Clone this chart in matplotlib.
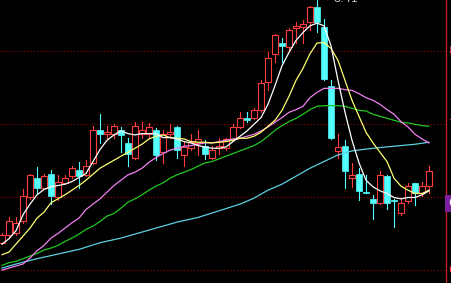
import numpy as np
import matplotlib
matplotlib.use("Agg")
import matplotlib.pyplot as plt
from matplotlib.patches import Rectangle

# K线数据 (开, 高, 低, 收)
opens = [6.59, 6.65, 6.66, 6.75, 6.93, 7.08, 7.00, 7.11, 6.93, 7.04,
         7.09, 7.14, 7.10, 7.19, 7.44, 7.41, 7.41, 7.44, 7.34, 7.23,
         7.41, 7.41, 7.44, 7.27, 7.41, 7.46, 7.25, 7.30, 7.34, 7.32,
         7.23, 7.30, 7.30, 7.37, 7.46, 7.53, 7.53, 7.59, 7.80, 8.01,
         8.09, 8.06, 8.20, 8.21, 8.25, 8.36, 8.21, 7.77, 7.28, 7.32,
         7.08, 7.11, 6.97, 6.92, 6.89, 7.09, 6.91, 6.81, 6.90, 7.04,
         6.96, 7.02]
highs = [6.66, 6.78, 6.78, 6.99, 7.11, 7.16, 7.11, 7.14, 7.10, 7.10,
         7.17, 7.20, 7.21, 7.47, 7.56, 7.47, 7.48, 7.46, 7.38, 7.50,
         7.50, 7.49, 7.45, 7.44, 7.48, 7.47, 7.35, 7.41, 7.44, 7.36,
         7.32, 7.38, 7.38, 7.48, 7.57, 7.57, 7.60, 7.81, 8.02, 8.16,
         8.13, 8.20, 8.25, 8.26, 8.37, 8.41, 8.27, 7.81, 7.41, 7.36,
         7.19, 7.15, 7.10, 6.95, 7.13, 7.10, 6.92, 6.92, 7.04, 7.04,
         7.05, 7.17]
lows = [6.58, 6.64, 6.65, 6.74, 6.92, 6.96, 6.99, 6.88, 6.91, 7.03,
        7.08, 7.00, 7.09, 7.18, 7.34, 7.37, 7.38, 7.27, 7.17, 7.22,
        7.38, 7.38, 7.21, 7.19, 7.38, 7.23, 7.17, 7.29, 7.25, 7.22,
        7.22, 7.26, 7.29, 7.36, 7.45, 7.50, 7.52, 7.57, 7.74, 7.95,
        7.95, 8.04, 8.09, 8.09, 8.19, 8.17, 7.81, 7.37, 7.23, 7.00,
        7.01, 6.91, 6.96, 6.77, 6.88, 6.84, 6.71, 6.80, 6.89, 6.87,
        6.94, 6.96]
closes = [6.65, 6.75, 6.74, 6.94, 7.10, 7.00, 7.09, 6.94, 7.05, 7.08,
          7.15, 7.09, 7.17, 7.44, 7.41, 7.42, 7.47, 7.40, 7.26, 7.47,
          7.44, 7.46, 7.25, 7.41, 7.42, 7.29, 7.31, 7.35, 7.37, 7.26,
          7.29, 7.32, 7.37, 7.46, 7.53, 7.51, 7.59, 7.79, 7.98, 8.15,
          8.07, 8.19, 8.22, 8.23, 8.36, 8.25, 7.82, 7.38, 7.31, 7.13,
          7.10, 6.98, 6.96, 6.89, 7.10, 6.89, 6.90, 6.89, 7.02, 6.96,
          7.02, 7.13]

# 均线
ma5 = [6.58, 6.62, 6.68, 6.80, 6.88, 6.95, 6.99, 7.01, 7.02, 7.03,
       7.05, 7.08, 7.11, 7.20, 7.29, 7.36, 7.40, 7.43, 7.41, 7.40,
       7.41, 7.41, 7.41, 7.38, 7.38, 7.37, 7.35, 7.34, 7.32, 7.31,
       7.30, 7.30, 7.31, 7.35, 7.39, 7.43, 7.48, 7.53, 7.63, 7.77,
       7.92, 8.02, 8.11, 8.17, 8.22, 8.24, 8.22, 8.07, 7.81, 7.57,
       7.36, 7.19, 7.06, 7.01, 6.98, 6.96, 6.93, 6.92, 6.93, 6.93,
       6.95, 6.98]
ma10 = [6.50, 6.52, 6.58, 6.64, 6.70, 6.775, 6.82, 6.89, 6.92, 6.95,
        6.985, 7.02, 7.06, 7.105, 7.15, 7.18, 7.21, 7.24, 7.27, 7.30,
        7.33, 7.37, 7.39, 7.40, 7.38, 7.375, 7.37, 7.35, 7.345, 7.345,
        7.34, 7.345, 7.35, 7.36, 7.375, 7.375, 7.39, 7.42, 7.465, 7.51,
        7.585, 7.69, 7.81, 7.90, 8.01, 8.09, 8.095, 8.05, 7.96, 7.81,
        7.66, 7.54, 7.42, 7.34, 7.27, 7.20, 7.075, 7.015, 6.985, 6.96,
        6.96, 6.985]
ma20 = [6.385, 6.40, 6.415, 6.43, 6.475, 6.53, 6.57, 6.625, 6.66, 6.70,
        6.74, 6.775, 6.84, 6.88, 6.92, 6.97, 7.02, 7.06, 7.10, 7.12,
        7.15, 7.195, 7.23, 7.26, 7.285, 7.30, 7.315, 7.32, 7.33, 7.34,
        7.34, 7.35, 7.36, 7.37, 7.375, 7.39, 7.405, 7.43, 7.46, 7.495,
        7.53, 7.57, 7.59, 7.615, 7.68, 7.72, 7.75, 7.75, 7.75, 7.74,
        7.735, 7.71, 7.68, 7.66, 7.63, 7.59, 7.555, 7.50, 7.46, 7.405,
        7.37, 7.34]
ma30 = [6.42, 6.44, 6.45, 6.47, 6.49, 6.51, 6.535, 6.55, 6.57, 6.60,
        6.625, 6.655, 6.69, 6.715, 6.75, 6.79, 6.81, 6.85, 6.895, 6.92,
        6.95, 6.985, 7.015, 7.04, 7.075, 7.10, 7.12, 7.14, 7.165, 7.19,
        7.20, 7.22, 7.24, 7.26, 7.28, 7.30, 7.32, 7.35, 7.39, 7.435,
        7.47, 7.50, 7.525, 7.555, 7.59, 7.615, 7.62, 7.62, 7.62, 7.615,
        7.60, 7.585, 7.58, 7.555, 7.54, 7.525, 7.51, 7.495, 7.49, 7.48,
        7.47, 7.465]
ma60_idx = [0, 2, 5, 8, 11, 14, 17, 20, 22, 25, 28, 31, 34, 36, 38, 40,
            42, 44, 46, 48, 50, 53, 56, 59, 61]
ma60 = [6.40, 6.43, 6.47, 6.505, 6.54, 6.59, 6.625, 6.67, 6.70, 6.745,
        6.78, 6.83, 6.88, 6.925, 6.985, 7.03, 7.09, 7.15, 7.20, 7.25,
        7.28, 7.30, 7.315, 7.33, 7.345]

grid_levels = [8.03, 7.48, 6.93, 6.385]
grid_labels = ["8.03", "7.48", "", "6.39"]   # 6.93 被紫色标签盖住
high_label = "8.41"
last_tag = "6.89"

RED = "#ff3c3c"
CYAN = "#54ffff"

fig = plt.figure(figsize=(4.51, 2.83), dpi=100, facecolor="black")
ax = fig.add_axes([0, 0, 446 / 451, 1])
ax.set_facecolor("black")

n = len(closes)
w = 0.72
for i in range(n):
    o, h, l, c = opens[i], highs[i], lows[i], closes[i]
    if c >= o:
        # 阳线: 空心红框
        ax.plot([i, i], [c, h], color=RED, lw=0.8, zorder=2)
        ax.plot([i, i], [l, o], color=RED, lw=0.8, zorder=2)
        ax.add_patch(Rectangle((i - w / 2, o), w, max(c - o, 0.006),
                               facecolor="black", edgecolor=RED, lw=0.8, zorder=3))
    else:
        ax.plot([i, i], [l, h], color=CYAN, lw=0.8, zorder=2)
        ax.add_patch(Rectangle((i - w / 2, c), w, max(o - c, 0.006),
                               facecolor=CYAN, edgecolor=CYAN, lw=0.5, zorder=3))

x = np.arange(n)
ax.plot(ma60_idx, ma60, color="#5cd0e0", lw=0.9, zorder=4)
ax.plot(x, ma30, color="#20c820", lw=0.9, zorder=4)
ax.plot(x, ma20, color="#f080f0", lw=0.9, zorder=4)
ax.plot(x, ma10, color="#ffff70", lw=0.9, zorder=4)
ax.plot(x, ma5, color="white", lw=0.9, zorder=4)

for g in grid_levels:
    ax.axhline(g, color="#a00000", lw=0.8, ls=(0, (1, 2)), zorder=1)

# 最高价标注
ax.text(47.3, 8.382, high_label, color="#c8c8c8", fontsize=8,
        ha="left", va="bottom", zorder=5, clip_on=False)

# 右侧坐标
trans = ax.get_yaxis_transform()
for g, s in zip(grid_levels, grid_labels):
    if s:
        ax.text(1.005, g, s, transform=trans, color=RED, fontsize=8,
                ha="left", va="center", clip_on=False)
ax.text(1.005, 6.885, last_tag, transform=trans, color="white", fontsize=8,
        ha="left", va="center", clip_on=False,
        bbox=dict(boxstyle="square,pad=0.3", facecolor="#7a1fa0", edgecolor="none"))

ax.set_xlim(-2 / 7, 444 / 7)
ax.set_ylim(8.41 - 0.0075 * 283, 8.41 + 0.0075 * 0.5)
for side in ["left", "top", "bottom"]:
    ax.spines[side].set_visible(False)
ax.spines["right"].set_color("#c02020")
ax.spines["right"].set_linewidth(1.0)
ax.set_xticks([])
ax.set_yticks([])

fig.savefig("out.png", dpi=100, facecolor="black")
